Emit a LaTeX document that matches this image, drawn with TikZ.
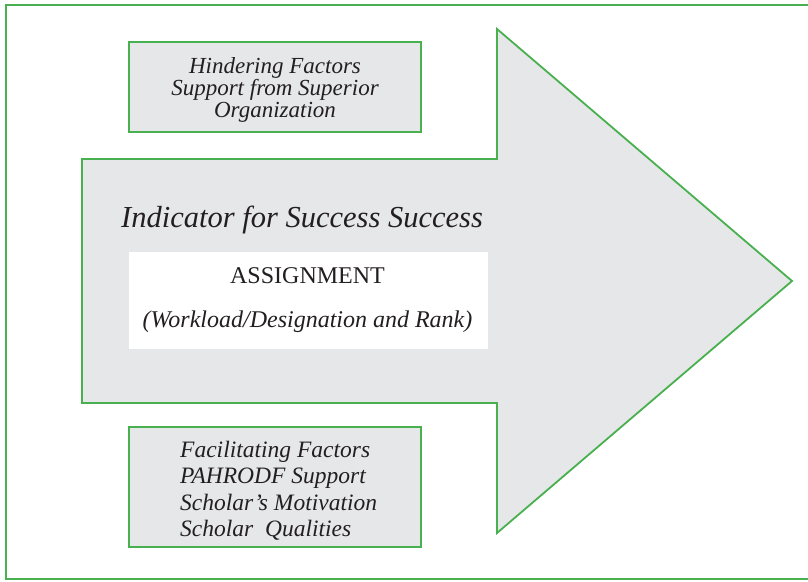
\documentclass[tikz,border=0pt]{standalone}
\usepackage{fontspec}
\setmainfont{Liberation Serif}
\definecolor{grn}{RGB}{72,176,78}
\definecolor{fillgray}{RGB}{230,231,232}
\definecolor{txt}{RGB}{35,31,32}
\tikzset{
  frameline/.style={draw=grn, line width=2pt},
  arrowshape/.style={draw=grn, fill=fillgray, line width=1.8pt, line join=miter},
  factorbox/.style={draw=grn, fill=fillgray, line width=2.4pt, minimum width=292pt, inner sep=0pt},
  whitebox/.style={fill=white, minimum width=359pt, minimum height=97pt, inner sep=0pt},
  label/.style={text=txt, inner sep=0pt}
}
\begin{document}
\begin{tikzpicture}[x=1pt,y=-1pt]
\useasboundingbox (0,0) rectangle (808,581);
\clip (0,0) rectangle (808,581);
\draw[frameline] (6,5) rectangle (830,579);
\draw[arrowshape] (82,159) -- (497,159) -- (497,29) -- (792,281) -- (497,533) -- (497,403) -- (82,403) -- cycle;
\node[factorbox, minimum height=90pt] (hinderbox) at (275,87) {};
\node[label, align=center, font=\fontsize{23}{21.7}\selectfont\itshape] (hinder) at (275,90)
  {Hindering Factors\\Support from Superior\\Organization};
\node[factorbox, minimum height=120pt] (facilbox) at (275,487) {};
\node[label, anchor=west, align=left, font=\fontsize{23.5}{26.5}\selectfont\itshape] (facil) at (180,490.5)
  {Facilitating Factors\\PAHRODF Support\\Scholar’s Motivation\\Scholar\ \ Qualities};
\node[whitebox] (assignbox) at (308.5,300.5) {};
\node[label, anchor=base west, font=\fontsize{30.5}{32}\selectfont\itshape] (title) at (121,227) {Indicator for Success Success};
\node[label, anchor=base, font=\fontsize{24}{26}\selectfont] (assign) at (307.5,283) {ASSIGNMENT};
\node[label, anchor=base, font=\fontsize{24}{26}\selectfont\itshape] (work) at (307.5,327) {(Workload/Designation and Rank)};
\end{tikzpicture}
\end{document}
